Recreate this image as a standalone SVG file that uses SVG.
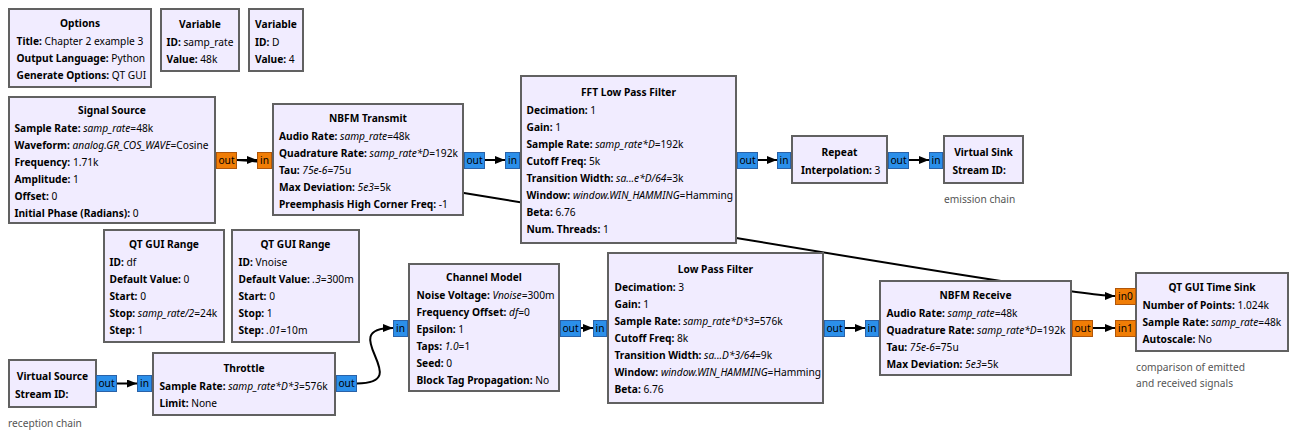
<svg xmlns="http://www.w3.org/2000/svg" width="1296" height="439" viewBox="0 0 1296 439">
<style>
text{font-family:"Noto Sans","DejaVu Sans",sans-serif;font-size:10.2px;fill:#000}
.blk{fill:#F1ECFF;stroke:#616161;stroke-width:2}
.t{font-weight:bold;text-anchor:middle}
.b{font-weight:bold}
.i{font-style:italic}
.pb{fill:#2B8FEA;stroke:#2A62A8;stroke-width:1}
.po{fill:#F07D06;stroke:#B0560A;stroke-width:1}
.pl{text-anchor:middle}
.c{fill:#555}
.w{fill:none;stroke:#000;stroke-width:2}
</style>
<defs>
<marker id="ah" viewBox="0 0 10 8" refX="10" refY="4" markerWidth="10" markerHeight="8" markerUnits="userSpaceOnUse" orient="auto">
<path d="M0,0L10,4L0,8z" fill="#000"/>
</marker>
</defs>
<g id="connectors">
<path class="w" d="M237,160C297,160 1055,296 1115,296" marker-end="url(#ah)"/>
<path class="w" d="M237,160H257" marker-end="url(#ah)"/>
<path class="w" d="M485,160H505" marker-end="url(#ah)"/>
<path class="w" d="M758,160H777" marker-end="url(#ah)"/>
<path class="w" d="M909,160H929" marker-end="url(#ah)"/>
<path class="w" d="M117,383.5H137" marker-end="url(#ah)"/>
<path class="w" d="M357,383.5C417,383.5 333,328 393,328" marker-end="url(#ah)"/>
<path class="w" d="M581,328H593" marker-end="url(#ah)"/>
<path class="w" d="M845,328H865" marker-end="url(#ah)"/>
<path class="w" d="M1093,328H1115" marker-end="url(#ah)"/>
</g>
<g id="options">
<rect class="blk" x="9" y="9" width="142" height="78"/>
<text class="t" x="80" y="27">Options</text>
<text x="16.5" y="45"><tspan class="b">Title:</tspan> Chapter 2 example 3</text>
<text x="16.5" y="62"><tspan class="b">Output Language:</tspan> Python</text>
<text x="16.5" y="79"><tspan class="b">Generate Options:</tspan> QT GUI</text>
</g>
<g id="var_samp_rate">
<rect class="blk" x="161" y="9" width="78" height="62"/>
<text class="t" x="200" y="27.5">Variable</text>
<text x="166.5" y="45.5"><tspan class="b">ID:</tspan> samp_rate</text>
<text x="166.5" y="62.5"><tspan class="b">Value:</tspan> 48k</text>
</g>
<g id="var_D">
<rect class="blk" x="249" y="9" width="54" height="62"/>
<text class="t" x="276" y="27.5">Variable</text>
<text x="255" y="45.5"><tspan class="b">ID:</tspan> D</text>
<text x="255" y="62.5"><tspan class="b">Value:</tspan> 4</text>
</g>
<g id="signal_source">
<rect class="blk" x="9" y="97" width="206" height="126"/>
<text class="t" x="112" y="113.5">Signal Source</text>
<text x="14.5" y="131.5"><tspan class="b">Sample Rate:</tspan> <tspan class="i">samp_rate</tspan>=48k</text>
<text x="14.5" y="148.5"><tspan class="b">Waveform:</tspan> <tspan class="i">analog.GR_COS_WAVE</tspan>=Cosine</text>
<text x="14.5" y="165.5"><tspan class="b">Frequency:</tspan> 1.71k</text>
<text x="14.5" y="182.5"><tspan class="b">Amplitude:</tspan> 1</text>
<text x="14.5" y="199.5"><tspan class="b">Offset:</tspan> 0</text>
<text x="14.5" y="216.5"><tspan class="b">Initial Phase (Radians):</tspan> 0</text>
<rect class="po" x="216.5" y="152.5" width="20" height="16"/>
<text class="pl" x="226.5" y="164">out</text>
</g>
<g id="nbfm_tx">
<rect class="blk" x="273" y="104" width="190" height="111"/>
<text class="t" x="368" y="121.5">NBFM Transmit</text>
<text x="279" y="139.5"><tspan class="b">Audio Rate:</tspan> <tspan class="i">samp_rate</tspan>=48k</text>
<text x="279" y="156.5"><tspan class="b">Quadrature Rate:</tspan> <tspan class="i">samp_rate*D</tspan>=192k</text>
<text x="279" y="173.5"><tspan class="b">Tau:</tspan> <tspan class="i">75e-6</tspan>=75u</text>
<text x="279" y="190.5"><tspan class="b">Max Deviation:</tspan> <tspan class="i">5e3</tspan>=5k</text>
<text x="279" y="207.5"><tspan class="b">Preemphasis High Corner Freq:</tspan> -1</text>
<rect class="po" x="257.5" y="152.5" width="14" height="16"/>
<text class="pl" x="264.5" y="164">in</text>
<rect class="pb" x="464.5" y="152.5" width="20" height="16"/>
<text class="pl" x="474.5" y="164">out</text>
</g>
<g id="fft_lpf">
<rect class="blk" x="521" y="76" width="215" height="167"/>
<text class="t" x="628.5" y="96">FFT Low Pass Filter</text>
<text x="526.5" y="114"><tspan class="b">Decimation:</tspan> 1</text>
<text x="526.5" y="131"><tspan class="b">Gain:</tspan> 1</text>
<text x="526.5" y="148"><tspan class="b">Sample Rate:</tspan> <tspan class="i">samp_rate*D</tspan>=192k</text>
<text x="526.5" y="165"><tspan class="b">Cutoff Freq:</tspan> 5k</text>
<text x="526.5" y="182"><tspan class="b">Transition Width:</tspan> <tspan class="i">sa...e*D/64</tspan>=3k</text>
<text x="526.5" y="199"><tspan class="b">Window:</tspan> <tspan class="i">window.WIN_HAMMING</tspan>=Hamming</text>
<text x="526.5" y="216"><tspan class="b">Beta:</tspan> 6.76</text>
<text x="526.5" y="233"><tspan class="b">Num. Threads:</tspan> 1</text>
<rect class="pb" x="505.5" y="152.5" width="14" height="16"/>
<text class="pl" x="512.5" y="164">in</text>
<rect class="pb" x="737.5" y="152.5" width="20" height="16"/>
<text class="pl" x="747.5" y="164">out</text>
</g>
<g id="repeat">
<rect class="blk" x="792" y="136" width="95" height="47"/>
<text class="t" x="839.5" y="155.5">Repeat</text>
<text x="801" y="173.5"><tspan class="b">Interpolation:</tspan> 3</text>
<rect class="pb" x="777.5" y="152.5" width="13" height="16"/>
<text class="pl" x="784" y="164">in</text>
<rect class="pb" x="888.5" y="152.5" width="20" height="16"/>
<text class="pl" x="898.5" y="164">out</text>
</g>
<g id="virtual_sink">
<rect class="blk" x="944" y="136" width="79" height="47"/>
<text class="t" x="983.5" y="155.5">Virtual Sink</text>
<text x="952.5" y="173.5"><tspan class="b">Stream ID:</tspan></text>
<rect class="pb" x="929.5" y="152.5" width="13" height="16"/>
<text class="pl" x="936" y="164">in</text>
</g>
<text id="comment_emission" class="c" x="944" y="203">emission chain</text>
<g id="range_df">
<rect class="blk" x="104" y="230" width="120" height="112"/>
<text class="t" x="164" y="248">QT GUI Range</text>
<text x="109.5" y="266"><tspan class="b">ID:</tspan> df</text>
<text x="109.5" y="283"><tspan class="b">Default Value:</tspan> 0</text>
<text x="109.5" y="300"><tspan class="b">Start:</tspan> 0</text>
<text x="109.5" y="317"><tspan class="b">Stop:</tspan> <tspan class="i">samp_rate/2</tspan>=24k</text>
<text x="109.5" y="334"><tspan class="b">Step:</tspan> 1</text>
</g>
<g id="range_vnoise">
<rect class="blk" x="232" y="230" width="127" height="112"/>
<text class="t" x="295.5" y="248">QT GUI Range</text>
<text x="238.5" y="266"><tspan class="b">ID:</tspan> Vnoise</text>
<text x="238.5" y="283"><tspan class="b">Default Value:</tspan> <tspan class="i">.3</tspan>=300m</text>
<text x="238.5" y="300"><tspan class="b">Start:</tspan> 0</text>
<text x="238.5" y="317"><tspan class="b">Stop:</tspan> 1</text>
<text x="238.5" y="334"><tspan class="b">Step:</tspan> <tspan class="i">.01</tspan>=10m</text>
</g>
<g id="virtual_source">
<rect class="blk" x="9" y="360" width="87" height="47"/>
<text class="t" x="52.5" y="379.5">Virtual Source</text>
<text x="15" y="397.5"><tspan class="b">Stream ID:</tspan></text>
<rect class="pb" x="96.5" y="375.5" width="20" height="16"/>
<text class="pl" x="106.5" y="387">out</text>
</g>
<text id="comment_reception" class="c" x="8" y="427">reception chain</text>
<g id="throttle">
<rect class="blk" x="153" y="353" width="182" height="62"/>
<text class="t" x="244" y="371.5">Throttle</text>
<text x="159.5" y="389.5"><tspan class="b">Sample Rate:</tspan> <tspan class="i">samp_rate*D*3</tspan>=576k</text>
<text x="159.5" y="406.5"><tspan class="b">Limit:</tspan> None</text>
<rect class="pb" x="137.5" y="375.5" width="14" height="16"/>
<text class="pl" x="144.5" y="387">in</text>
<rect class="pb" x="336.5" y="375.5" width="20" height="16"/>
<text class="pl" x="346.5" y="387">out</text>
</g>
<g id="channel_model">
<rect class="blk" x="409" y="264" width="150" height="127"/>
<text class="t" x="484" y="281">Channel Model</text>
<text x="416.5" y="299"><tspan class="b">Noise Voltage:</tspan> <tspan class="i">Vnoise</tspan>=300m</text>
<text x="416.5" y="316"><tspan class="b">Frequency Offset:</tspan> <tspan class="i">df</tspan>=0</text>
<text x="416.5" y="333"><tspan class="b">Epsilon:</tspan> 1</text>
<text x="416.5" y="350"><tspan class="b">Taps:</tspan> <tspan class="i">1.0</tspan>=1</text>
<text x="416.5" y="367"><tspan class="b">Seed:</tspan> 0</text>
<text x="416.5" y="384"><tspan class="b">Block Tag Propagation:</tspan> No</text>
<rect class="pb" x="393.5" y="320.5" width="14" height="16"/>
<text class="pl" x="400.5" y="332">in</text>
<rect class="pb" x="560.5" y="320.5" width="20" height="16"/>
<text class="pl" x="570.5" y="332">out</text>
</g>
<g id="lpf">
<rect class="blk" x="608" y="253" width="215" height="150"/>
<text class="t" x="715.5" y="273">Low Pass Filter</text>
<text x="614.5" y="291"><tspan class="b">Decimation:</tspan> 3</text>
<text x="614.5" y="308"><tspan class="b">Gain:</tspan> 1</text>
<text x="614.5" y="325"><tspan class="b">Sample Rate:</tspan> <tspan class="i">samp_rate*D*3</tspan>=576k</text>
<text x="614.5" y="342"><tspan class="b">Cutoff Freq:</tspan> 8k</text>
<text x="614.5" y="359"><tspan class="b">Transition Width:</tspan> <tspan class="i">sa...D*3/64</tspan>=9k</text>
<text x="614.5" y="376"><tspan class="b">Window:</tspan> <tspan class="i">window.WIN_HAMMING</tspan>=Hamming</text>
<text x="614.5" y="393"><tspan class="b">Beta:</tspan> 6.76</text>
<rect class="pb" x="593.5" y="320.5" width="13" height="16"/>
<text class="pl" x="600" y="332">in</text>
<rect class="pb" x="824.5" y="320.5" width="20" height="16"/>
<text class="pl" x="834.5" y="332">out</text>
</g>
<g id="nbfm_rx">
<rect class="blk" x="880" y="281" width="191" height="94"/>
<text class="t" x="975.5" y="298.5">NBFM Receive</text>
<text x="886.5" y="316.5"><tspan class="b">Audio Rate:</tspan> <tspan class="i">samp_rate</tspan>=48k</text>
<text x="886.5" y="333.5"><tspan class="b">Quadrature Rate:</tspan> <tspan class="i">samp_rate*D</tspan>=192k</text>
<text x="886.5" y="350.5"><tspan class="b">Tau:</tspan> <tspan class="i">75e-6</tspan>=75u</text>
<text x="886.5" y="367.5"><tspan class="b">Max Deviation:</tspan> <tspan class="i">5e3</tspan>=5k</text>
<rect class="pb" x="865.5" y="320.5" width="13" height="16"/>
<text class="pl" x="872" y="332">in</text>
<rect class="po" x="1072.5" y="320.5" width="20" height="16"/>
<text class="pl" x="1082.5" y="332">out</text>
</g>
<g id="time_sink">
<rect class="blk" x="1136" y="273" width="152" height="78"/>
<text class="t" x="1212" y="291">QT GUI Time Sink</text>
<text x="1142.5" y="309"><tspan class="b">Number of Points:</tspan> 1.024k</text>
<text x="1142.5" y="326"><tspan class="b">Sample Rate:</tspan> <tspan class="i">samp_rate</tspan>=48k</text>
<text x="1142.5" y="343"><tspan class="b">Autoscale:</tspan> No</text>
<rect class="po" x="1115.5" y="288.5" width="20" height="16"/>
<text class="pl" x="1125.5" y="300">in0</text>
<rect class="po" x="1115.5" y="320.5" width="20" height="16"/>
<text class="pl" x="1125.5" y="332">in1</text>
</g>
<text id="comment_comparison" class="c" x="1136" y="371">comparison of emitted<tspan x="1136" y="387">and received signals</tspan></text>
</svg>
